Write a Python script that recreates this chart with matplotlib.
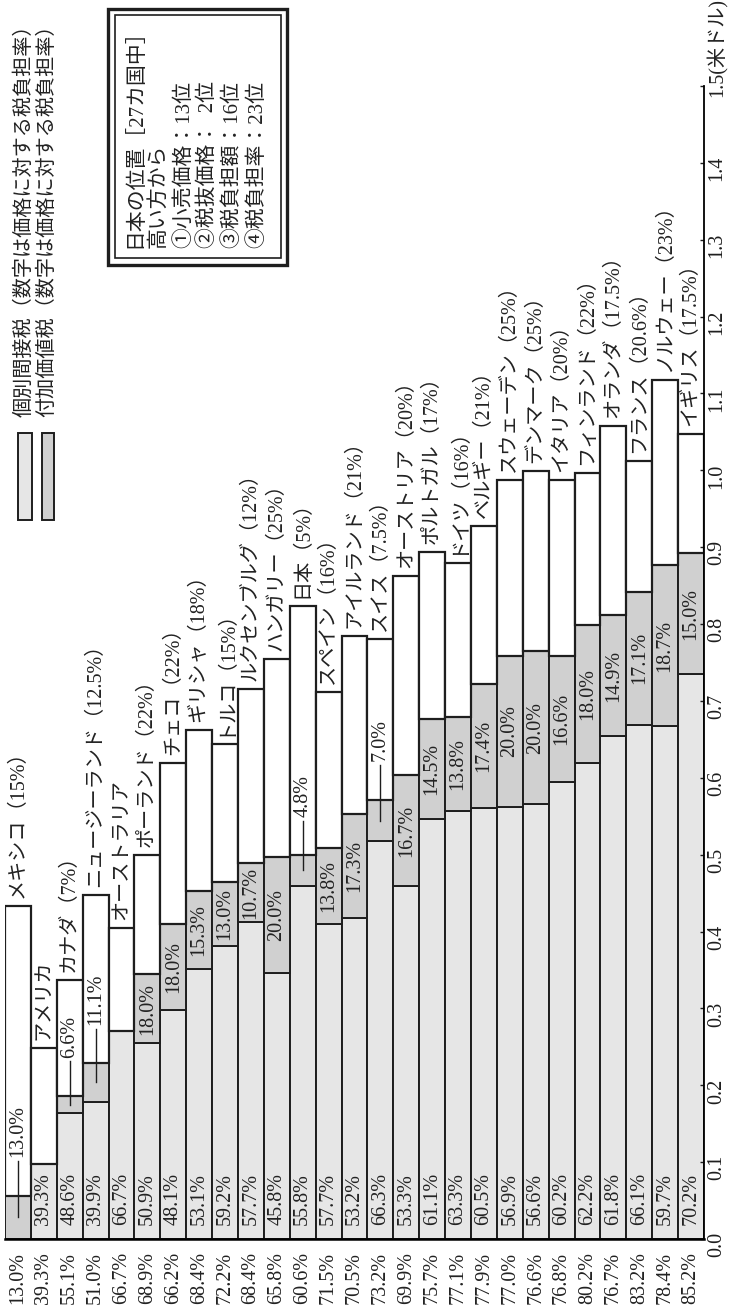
import numpy as np
import matplotlib.pyplot as plt
from matplotlib.patches import Rectangle
from matplotlib.transforms import blended_transform_factory

# 欧文は明朝風のセリフ体、和文はCJKフォントで補う
plt.rcParams['font.family'] = ['Liberation Serif', 'Noto Sans CJK JP']

# 国名と付加価値税率（空欄は付加価値税なし）
countries = ["メキシコ", "アメリカ", "カナダ", "ニュージーランド", "オーストラリア",
             "ポーランド", "チェコ", "ギリシャ", "トルコ", "ルクセンブルグ",
             "ハンガリー", "日本", "スペイン", "アイルランド", "スイス",
             "オーストリア", "ポルトガル", "ドイツ", "ベルギー", "スウェーデン",
             "デンマーク", "イタリア", "フィンランド", "オランダ", "フランス",
             "ノルウェー", "イギリス"]
vat_rates = ["15%", "", "7%", "12.5%", "", "22%", "22%", "18%", "15%", "12%",
             "25%", "5%", "16%", "21%", "7.5%", "20%", "17%", "16%", "21%", "25%",
             "25%", "20%", "22%", "17.5%", "20.6%", "23%", "17.5%"]

# 小売価格（米ドル）
price = [0.433, 0.249, 0.337, 0.448, 0.405, 0.500, 0.619, 0.662, 0.644, 0.715,
         0.755, 0.824, 0.711, 0.784, 0.780, 0.862, 0.894, 0.880, 0.927, 0.987,
         0.999, 0.987, 0.996, 1.058, 1.012, 1.118, 1.047]
# 価格に対する税負担率（%）
indirect_pct = [0.0, 39.3, 48.6, 39.9, 66.7, 50.9, 48.1, 53.1, 59.2, 57.7,
                45.8, 55.8, 57.7, 53.2, 66.3, 53.3, 61.1, 63.3, 60.5, 56.9,
                56.6, 60.2, 62.2, 61.8, 66.1, 59.7, 70.2]
vat_pct = [13.0, 0.0, 6.6, 11.1, 0.0, 18.0, 18.0, 15.3, 13.0, 10.7,
           20.0, 4.8, 13.8, 17.3, 7.0, 16.7, 14.5, 13.8, 17.4, 20.0,
           20.0, 16.6, 18.0, 14.9, 17.1, 18.7, 15.0]
total_pct = [13.0, 39.3, 55.1, 51.0, 66.7, 68.9, 66.2, 68.4, 72.2, 68.4,
             65.8, 60.6, 71.5, 70.5, 73.2, 69.9, 75.7, 77.1, 77.9, 77.0,
             76.6, 76.8, 80.2, 76.7, 83.2, 78.4, 85.2]

y_ticks = [round(0.1 * i, 1) for i in range(16)]

info_lines = ["日本の位置［27カ国中］", "高い方から", "①小売価格：13位",
              "②税抜価格：  2位", "③税負担額：16位", "④税負担率：23位"]

LIGHT = "#e6e6e6"
DARK = "#d0d0d0"
EDGE = "#1e1e1e"
TXT = "#222222"
FS = 14.5

W, H = 729, 1311
fig = plt.figure(figsize=(W / 100, H / 100), dpi=100)
fig.patch.set_facecolor("white")
ax = fig.add_axes([5 / W, 72 / H, 699 / W, 1153 / H])

x = np.arange(len(countries))
p = np.array(price)
ind = p * np.array(indirect_pct) / 100
vat = p * np.array(vat_pct) / 100
pre = p - ind - vat

# 個別間接税・付加価値税・税抜価格の積み上げ
ax.bar(x, ind, 1.0, color=LIGHT, edgecolor=EDGE, linewidth=1.4)
ax.bar(x, vat, 1.0, bottom=ind, color=DARK, edgecolor=EDGE, linewidth=1.4)
ax.bar(x, pre, 1.0, bottom=ind + vat, color="white", edgecolor=EDGE, linewidth=1.6)

ax.set_xlim(-0.5, len(countries) - 0.5)
ax.set_ylim(0, 1.5)
for side in ["left", "top"]:
    ax.spines[side].set_visible(False)
ax.spines["right"].set_linewidth(1.3)
ax.spines["bottom"].set_linewidth(1.8)
ax.set_xticks([])
ax.yaxis.tick_right()
ax.set_yticks(y_ticks)
ax.set_yticklabels([f"{t:.1f}" for t in y_ticks[:-1]] + [""])
ax.tick_params(axis="y", direction="in", length=3, width=1, pad=2,
               labelsize=FS, labelrotation=90, colors=EDGE)
trans = blended_transform_factory(ax.transAxes, ax.transData)
ax.annotate("1.5(米ドル)", xy=(1, 1.5), xycoords=trans, xytext=(2, -8),
            textcoords="offset points", rotation=90, ha="left", va="bottom",
            fontsize=FS, color=TXT, annotation_clip=False)

px = 1.5 / 1153  # データ単位での1ピクセル
for i in x:
    # 国名と税率
    name = countries[i] + (f"（{vat_rates[i]}）" if vat_rates[i] else "")
    ax.text(i, p[i] + 8 * px, name, rotation=90, ha="center", va="bottom",
            fontsize=14.5, color=TXT, clip_on=False)
    # 税負担率の合計
    ax.text(i, -13 * px, f"{total_pct[i]:.1f}%", rotation=90, ha="center",
            va="top", fontsize=FS, color=TXT, clip_on=False)
    # 個別間接税の負担率
    if indirect_pct[i] > 0:
        ax.text(i, 14 * px, f"{indirect_pct[i]:.1f}%", rotation=90,
                ha="center", va="bottom", fontsize=FS, color=TXT)
    # 付加価値税の負担率（細い区間は引き出し線で上に出す）
    if vat_pct[i] > 0:
        lab = f"{vat_pct[i]:.1f}%"
        mid = ind[i] + vat[i] / 2
        if vat[i] < 0.06:
            top = ind[i] + vat[i]
            ax.plot([i, i], [mid, top + 0.045], color=EDGE, lw=1.0)
            ax.text(i, top + 0.05, lab, rotation=90, ha="center", va="bottom",
                    fontsize=FS, color=TXT)
        else:
            ax.text(i, mid, lab, rotation=90, ha="center", va="center",
                    fontsize=FS, color=TXT)

# 凡例と日本の順位は画素座標で配置
ov = fig.add_axes([0, 0, 1, 1], facecolor="none")
ov.set_xlim(0, W)
ov.set_ylim(H, 0)
ov.axis("off")

ov.add_patch(Rectangle((18, 433), 14, 87, facecolor=LIGHT, edgecolor=EDGE, lw=1.4))
ov.add_patch(Rectangle((42, 433), 12, 87, facecolor=DARK, edgecolor=EDGE, lw=1.4))
ov.text(25, 417, "個別間接税（数字は価格に対する税負担率）", rotation=90,
        ha="center", va="bottom", fontsize=FS, color=TXT)
ov.text(48, 417, "付加価値税（数字は価格に対する税負担率）", rotation=90,
        ha="center", va="bottom", fontsize=FS, color=TXT)

ov.add_patch(Rectangle((108, 9), 179, 256, facecolor="white", edgecolor=EDGE, lw=2.4))
ov.add_patch(Rectangle((115, 15), 166, 243, facecolor="none", edgecolor=EDGE, lw=1.2))
for xc, line in zip([135, 159, 184, 208, 232, 257], info_lines):
    ov.text(xc, 248, line, rotation=90, ha="center", va="bottom",
            fontsize=15, color=TXT)

fig.savefig("out.png", dpi=100, facecolor="white")
